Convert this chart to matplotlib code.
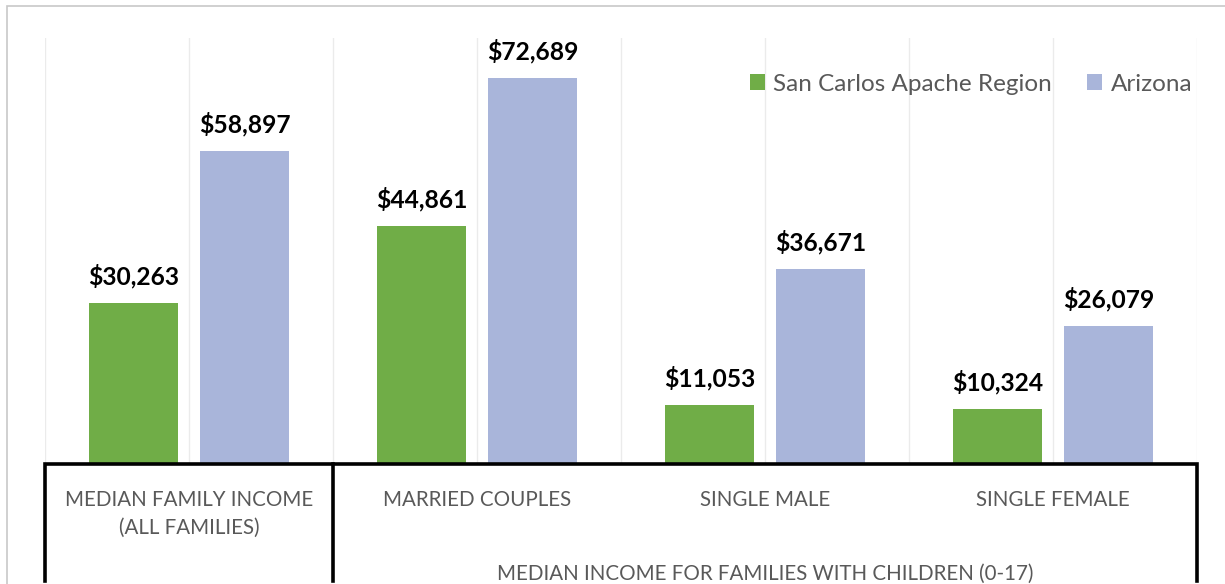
import numpy as np
import matplotlib
matplotlib.use("Agg")
import matplotlib.pyplot as plt
from matplotlib.patches import Rectangle
from matplotlib.transforms import blended_transform_factory

plt.rcParams['font.family'] = ['Lato', 'DejaVu Sans']

categories = ["MEDIAN FAMILY INCOME\n(ALL FAMILIES)", "MARRIED COUPLES",
              "SINGLE MALE", "SINGLE FEMALE"]
region_vals = [30263, 44861, 11053, 10324]
arizona_vals = [58897, 72689, 36671, 26079]
series_names = ["San Carlos Apache Region", "Arizona"]
group_label = "MEDIAN INCOME FOR FAMILIES WITH CHILDREN (0-17)"

GREEN = "#70AD47"
BLUE = "#A9B5DA"
GRAY_TEXT = "#595959"

W, H = 1225, 584
fig = plt.figure(figsize=(W / 100, H / 100), dpi=100)
ax = fig.add_axes([45 / W, (H - 464) / H, (1197 - 45) / W, (464 - 38) / H])

x = np.arange(len(categories))
bw = 0.309
off = 0.193
b1 = ax.bar(x - off, region_vals, bw, color=GREEN, label=series_names[0], zorder=3)
b2 = ax.bar(x + off, arizona_vals, bw, color=BLUE, label=series_names[1], zorder=3)

for bars, vals in ((b1, region_vals), (b2, arizona_vals)):
    for rect, v in zip(bars, vals):
        ax.annotate(f"${v:,}", (rect.get_x() + rect.get_width() / 2, v),
                    xytext=(0, 10.5), textcoords="offset points",
                    ha="center", va="bottom", fontsize=17.7, fontweight="bold",
                    color="black")

ax.set_xlim(-0.5, 3.5)
ax.set_ylim(0, 80226)
ax.set_yticks([])
ax.set_xticks(x)
ax.set_xticklabels(categories, fontsize=14.8, color=GRAY_TEXT, linespacing=1.45)
ax.set_xticks(np.arange(-0.5, 3.6, 0.5), minor=True)
ax.tick_params(axis="x", which="both", length=0, pad=19)
ax.grid(axis="x", which="both", color="#ebebeb", linewidth=1, zorder=0)
for s in ax.spines.values():
    s.set_visible(False)

tr = blended_transform_factory(ax.transData, ax.transAxes)
yb = -0.275
ax.plot([-0.5, -0.5, 3.5, 3.5], [yb, 0, 0, yb], color="black", lw=2.6,
        transform=tr, clip_on=False, solid_joinstyle="miter", zorder=5)
ax.plot([0.5, 0.5], [yb, 0], color="black", lw=2.6, transform=tr,
        clip_on=False, zorder=5)

ax.text(2, -0.258, group_label, transform=tr, ha="center", va="center",
        fontsize=14.8, color=GRAY_TEXT)

leg = ax.legend(loc="center right", bbox_to_anchor=(0.996, 0.892), ncol=2,
                frameon=False, fontsize=17.5, handlelength=0.62, handleheight=0.62,
                handletextpad=0.35, columnspacing=1.45, borderpad=0,
                borderaxespad=0)
for t in leg.get_texts():
    t.set_color(GRAY_TEXT)

fig.patches.append(Rectangle((7 / W, -0.1), 1.2, (H - 6) / H + 0.1,
                             transform=fig.transFigure, fill=False,
                             edgecolor="#c8c8c8", linewidth=1.2))

fig.savefig("out.png", dpi=100)
